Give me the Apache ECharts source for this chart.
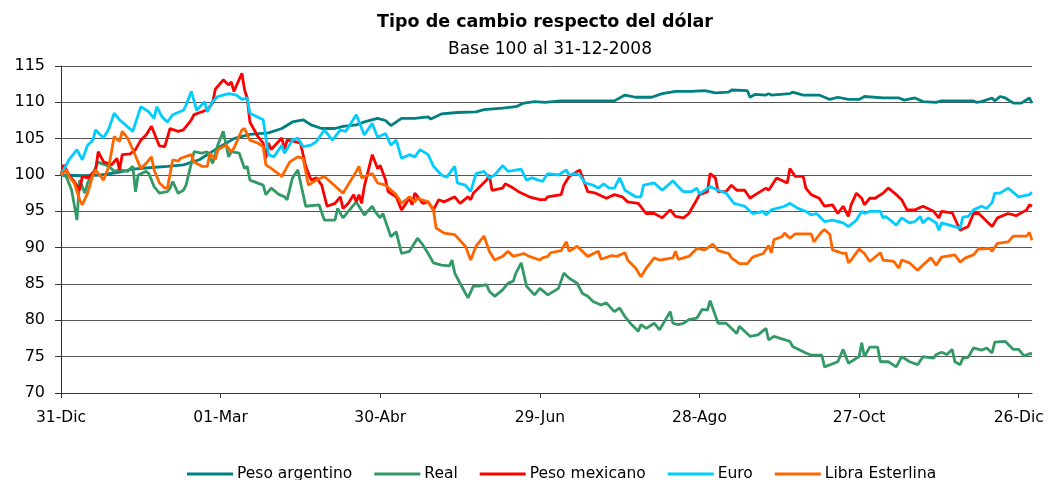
<!DOCTYPE html>
<html>
<head>
<meta charset="utf-8">
<script src="https://cdn.jsdelivr.net/npm/echarts@6/dist/echarts.min.js"></script>
<style>
  html, body { margin: 0; padding: 0; background: #fff; }
  #chart { width: 1048px; height: 480px; }
</style>
</head>
<body>
<div id="chart"></div>
<script>
/* ============================================================
   Tipo de cambio respecto del dólar — base 100 al 31-12-2008
   ============================================================ */

// x = días desde el 31-12-2008
const TICK_DAYS = [0, 60, 120, 180, 240, 300, 360];
const TICK_LABELS = ["31-Dic", "01-Mar", "30-Abr", "29-Jun", "28-Ago", "27-Oct", "26-Dic"];

const pesoArgentino = [
  [0,100],[8,99.9],[15,100.0],[22,100.4],[27,100.8],[33,101.0],[40,101.2],[46,101.4],[52,102.1],[58,103.5],
  [65,105.0],[71,105.6],[78,105.8],[83,106.4],[87,107.3],[91,107.6],[94,106.9],[98,106.4],[103,106.4],[106,106.7],
  [111,106.9],[114,107.3],[119,107.8],[122,107.5],[124,106.8],[128,107.8],[133,107.8],[138,108.0],[139,107.7],[143,108.4],
  [149,108.6],[156,108.7],[159,109.0],[166,109.2],[171,109.4],[174,109.9],[178,110.1],[182,110.0],[188,110.2],[197,110.2],
  [208,110.2],[212,111.0],[216,110.7],[222,110.7],[226,111.2],[231,111.5],[237,111.5],[242,111.6],[246,111.3],[251,111.4],
  [252,111.7],[258,111.6],[259,110.7],[261,111.1],[265,111.0],[266,111.2],[267,111.0],[274,111.2],[275,111.4],[279,111.0],
  [285,111.0],[289,110.4],[292,110.7],[296,110.4],[300,110.4],[302,110.8],[309,110.6],[315,110.6],[317,110.3],[321,110.6],
  [324,110.1],[329,110.0],[331,110.2],[343,110.2],[344,110.0],[346,110.1],[350,110.6],[351,110.2],[353,110.8],[355,110.6],
  [358,109.9],[361,109.9],[364,110.6],[365,109.9]
];

const real = [
  [0,100],[2,99.8],[4,97.9],[6,93.8],[7,99.3],[9,97.5],[10,98.9],[12,100.2],[14,101.8],[15,101.6],
  [18,101.2],[20,100.5],[22,100.7],[25,100.5],[27,101.2],[28,97.7],[29,100.0],[32,100.5],[33,100.2],[35,98.4],
  [37,97.5],[40,97.7],[41,98.2],[42,99.1],[44,97.5],[46,97.9],[47,98.6],[49,101.6],[50,103.2],[53,103.0],
  [55,103.2],[57,101.6],[59,104.2],[61,106.0],[63,102.5],[64,103.2],[67,103.0],[69,100.9],[70,101.2],[71,99.3],
  [76,98.6],[77,97.3],[79,98.2],[82,97.3],[84,97.0],[85,96.6],[87,99.6],[89,100.7],[92,95.7],[97,95.9],
  [99,93.8],[103,93.8],[104,95.4],[106,94.1],[111,96.3],[114,94.5],[117,95.7],[118,95.0],[120,94.1],[121,94.7],
  [124,91.5],[126,92.2],[128,89.2],[131,89.5],[134,91.3],[136,90.4],[138,89.2],[140,87.9],[143,87.6],[146,87.5],
  [147,88.3],[148,86.5],[150,85.1],[153,83.1],[155,84.7],[157,84.7],[160,84.9],[161,84.0],[163,83.3],[166,84.2],
  [168,85.1],[170,85.4],[171,86.5],[173,87.9],[175,84.7],[178,83.5],[180,84.4],[183,83.5],[187,84.4],[189,86.5],
  [191,85.8],[194,85.1],[196,83.7],[198,83.3],[200,82.6],[203,82.1],[205,82.4],[208,81.2],[210,81.7],[212,80.5],
  [214,79.6],[217,78.5],[218,79.4],[220,78.9],[223,79.6],[225,78.7],[229,81.2],[230,79.6],[232,79.4],[234,79.6],
  [236,80.1],[239,80.3],[241,81.5],[243,81.4],[244,82.7],[247,79.6],[250,79.6],[252,78.9],[254,78.2],[255,79.2],
  [259,77.8],[262,78.0],[265,78.9],[266,77.3],[268,77.8],[274,77.1],[275,76.4],[280,75.5],[282,75.2],[286,75.2],
  [287,73.6],[292,74.3],[294,76.0],[296,74.1],[300,75.0],[301,76.9],[302,75.0],[304,76.3],[307,76.3],[308,74.3],
  [311,74.3],[314,73.6],[316,75.0],[319,74.3],[322,73.9],[324,75.0],[328,74.8],[329,75.3],[331,75.6],[333,75.3],
  [335,76.0],[336,74.3],[338,73.9],[339,74.8],[341,74.9],[343,76.2],[346,75.9],[348,76.2],[350,75.5],[351,77.0],
  [355,77.1],[358,76.0],[360,76.0],[362,75.1],[364,75.4],[365,75.4]
];

const pesoMexicano = [
  [0,100],[1,101.4],[3,100.0],[5,99.1],[7,97.9],[8,99.8],[10,99.6],[13,100.7],[14,103.2],[16,101.8],
  [19,101.4],[21,102.3],[22,100.7],[23,102.8],[26,102.9],[28,103.5],[30,104.8],[32,105.5],[34,106.7],[37,104.0],
  [39,103.9],[41,106.4],[44,106.0],[46,106.2],[48,107.1],[49,107.6],[50,108.3],[53,108.7],[55,109.0],[57,109.9],
  [58,111.8],[61,113.1],[63,112.4],[64,112.8],[65,111.5],[68,114.0],[69,111.7],[70,110.6],[71,107.3],[74,105.3],
  [76,104.4],[77,102.3],[78,104.4],[79,103.5],[83,105.1],[84,103.5],[85,104.8],[88,104.6],[90,104.4],[92,101.2],
  [94,99.3],[96,99.6],[98,98.6],[100,95.7],[103,96.1],[105,97.0],[106,95.4],[108,96.1],[110,97.3],[111,96.3],
  [112,97.3],[113,96.1],[114,98.4],[117,102.8],[119,100.9],[120,101.3],[122,99.3],[123,97.7],[126,97.0],[128,95.2],
  [131,96.8],[132,95.9],[133,97.5],[136,96.1],[138,96.3],[140,95.2],[142,96.6],[144,96.3],[148,97.0],[150,96.1],
  [153,97.0],[154,96.6],[155,97.5],[160,99.3],[161,100.0],[162,97.9],[166,98.2],[167,98.8],[170,98.2],[172,97.7],
  [176,97.0],[180,96.6],[182,96.6],[183,97.0],[188,97.3],[189,98.6],[191,99.8],[195,100.7],[198,97.7],[201,97.5],
  [205,96.8],[208,97.3],[211,97.0],[213,96.3],[217,96.1],[220,94.7],[223,94.7],[226,94.1],[229,95.2],[231,94.3],
  [234,94.1],[236,94.7],[239,96.6],[240,97.3],[243,97.7],[244,100.2],[246,99.6],[247,97.7],[250,97.7],[252,98.6],
  [254,97.9],[257,97.9],[259,96.8],[261,97.3],[265,98.2],[266,97.9],[269,99.6],[273,98.9],[274,100.9],[276,99.8],
  [279,99.8],[280,98.2],[282,97.3],[285,96.8],[287,95.7],[290,95.9],[292,94.7],[294,95.7],[296,94.3],[297,95.9],
  [299,97.5],[301,96.8],[302,95.9],[304,96.8],[306,96.8],[309,97.5],[311,98.2],[314,97.3],[316,96.6],[318,95.2],
  [321,95.2],[324,95.7],[328,95.0],[330,94.1],[331,95.0],[335,94.8],[338,92.4],[341,92.9],[343,94.7],[345,94.7],
  [350,92.9],[352,94.1],[356,94.7],[359,94.4],[363,95.2],[364,95.9],[365,95.7]
];

const euro = [
  [0,100],[3,102.1],[6,103.5],[8,102.1],[10,104.1],[12,104.8],[13,106.2],[16,105.1],[18,106.4],[20,108.5],
  [22,107.6],[27,106.0],[30,109.4],[33,108.7],[35,107.8],[36,109.4],[38,108.0],[40,107.3],[42,108.3],[46,108.9],
  [47,109.6],[49,111.5],[51,108.9],[54,110.1],[55,108.7],[57,110.1],[59,110.8],[61,111.0],[63,111.2],[66,111.0],
  [68,110.4],[70,110.6],[71,108.5],[76,107.6],[78,102.8],[80,102.5],[83,104.1],[84,103.0],[87,104.8],[89,105.1],
  [91,103.9],[94,104.1],[96,104.6],[99,106.2],[102,104.8],[105,106.2],[107,106.0],[111,108.3],[114,105.5],[117,107.1],
  [119,105.2],[122,105.7],[124,104.1],[126,104.8],[128,102.3],[131,102.8],[133,102.5],[135,103.5],[138,102.8],[140,101.2],
  [143,100.0],[145,99.7],[148,101.2],[149,98.9],[152,98.6],[154,97.7],[156,100.2],[159,100.5],[161,99.6],[163,100.0],
  [166,101.3],[168,100.5],[173,100.8],[175,99.3],[177,99.6],[181,99.1],[183,100.2],[187,100.0],[190,100.7],[191,100.0],
  [193,100.2],[195,100.0],[197,98.9],[200,98.6],[202,98.2],[204,98.8],[206,98.2],[208,98.2],[210,99.6],[212,97.9],
  [216,97.0],[218,97.0],[219,98.6],[223,98.9],[226,97.9],[230,99.2],[232,98.4],[234,97.7],[237,97.7],[239,98.2],
  [240,97.4],[244,98.4],[247,97.9],[250,97.5],[253,96.1],[257,95.7],[260,94.7],[264,95.0],[265,94.5],[267,95.2],
  [272,95.7],[274,96.1],[277,95.4],[280,95.0],[282,94.5],[284,94.7],[287,93.6],[290,93.8],[294,93.4],[296,92.9],
  [299,93.8],[301,95.0],[302,94.7],[304,95.0],[308,95.0],[309,94.1],[310,94.3],[314,93.1],[316,94.1],[319,93.4],
  [321,93.6],[323,94.3],[324,93.4],[326,94.1],[329,93.4],[330,92.4],[331,93.4],[336,92.9],[338,92.7],[339,94.2],
  [341,94.3],[343,95.2],[346,95.7],[348,95.4],[350,96.2],[351,97.5],[353,97.5],[356,98.2],[360,97.0],[364,97.3],
  [365,97.6]
];

const libraEsterlina = [
  [0,100],[2,100.7],[3,99.8],[5,98.9],[7,96.6],[8,95.9],[10,97.5],[12,100.0],[13,100.7],[16,99.3],
  [18,101.2],[20,105.3],[22,104.6],[23,106.0],[25,105.1],[27,103.5],[30,100.9],[32,101.6],[34,102.5],[35,100.7],
  [37,98.9],[39,98.2],[40,98.2],[42,102.1],[44,101.9],[45,102.3],[49,102.8],[50,101.8],[53,101.2],[55,101.2],
  [56,103.0],[58,102.1],[59,103.5],[62,104.1],[64,103.2],[65,103.7],[68,106.2],[69,106.4],[71,104.8],[74,104.4],
  [76,103.9],[77,101.4],[79,100.9],[83,99.8],[86,101.8],[89,102.5],[91,102.3],[93,98.6],[96,99.3],[99,99.8],
  [106,97.5],[111,100.5],[112,101.2],[113,99.6],[117,100.2],[119,98.9],[122,98.6],[126,97.3],[128,96.1],[131,97.0],
  [133,96.3],[134,96.8],[138,96.3],[140,95.2],[141,92.7],[144,92.0],[148,91.8],[152,90.2],[154,88.3],[156,90.2],
  [159,91.6],[161,89.5],[163,88.3],[166,88.8],[168,89.5],[170,88.8],[174,89.2],[176,88.8],[180,88.3],[181,88.6],
  [183,88.8],[184,89.3],[188,89.6],[190,90.8],[191,89.5],[194,90.2],[198,88.8],[202,89.5],[203,88.4],[207,88.9],
  [209,88.8],[212,89.3],[213,88.3],[216,87.2],[218,86.0],[220,87.2],[223,88.6],[225,88.3],[230,88.6],[231,89.5],
  [232,88.4],[236,88.8],[239,89.9],[242,89.7],[245,90.5],[247,89.6],[251,89.2],[252,88.6],[255,87.8],[258,87.8],
  [260,88.7],[264,89.2],[266,90.3],[267,89.3],[268,91.1],[271,91.5],[272,92.0],[274,91.3],[276,91.9],[282,91.9],
  [283,90.8],[286,92.2],[287,92.5],[289,91.8],[290,89.7],[294,89.2],[295,89.3],[296,87.9],[297,88.3],[300,89.8],
  [302,89.2],[304,88.1],[308,89.3],[309,88.3],[313,88.1],[315,87.2],[316,88.3],[319,87.9],[322,86.9],[324,87.6],
  [327,88.6],[329,87.6],[331,88.7],[336,89.0],[338,88.0],[340,88.6],[343,89.0],[345,89.9],[346,89.8],[349,89.9],
  [350,89.5],[352,90.6],[356,90.8],[358,91.6],[363,91.6],[364,92.1],[365,91.0]
];

const SERIES = [
  { name: "Peso argentino", data: pesoArgentino, color: "#008080" },
  { name: "Real", data: real, color: "#339966" },
  { name: "Peso mexicano", data: pesoMexicano, color: "#ff0000" },
  { name: "Euro", data: euro, color: "#00ccff" },
  { name: "Libra Esterlina", data: libraEsterlina, color: "#ff6600" },
];

/* ----------------------- CHART ----------------------- */
const FONT = "DejaVu Sans";
const chart = echarts.init(document.getElementById("chart"), null, { renderer: "canvas" });

chart.setOption({
  animation: false,
  textStyle: { fontFamily: FONT, color: "#000" },
  title: [
    {
      text: "Tipo de cambio respecto del dólar",
      left: 540, top: 8, textAlign: "center",
      textStyle: { fontFamily: FONT, fontSize: 17.5, fontWeight: "bold", color: "#000" },
    },
    {
      text: "Base 100 al 31-12-2008",
      left: 545, top: 36, textAlign: "center",
      textStyle: { fontFamily: FONT, fontSize: 17, fontWeight: "normal", color: "#000" },
    },
  ],
  legend: {
    left: 182, top: 461,
    icon: "rect", itemWidth: 46, itemHeight: 3, itemGap: 22,
    textStyle: { fontFamily: FONT, fontSize: 15.5, color: "#000", padding: [0, 0, 0, -1] },
    data: SERIES.map((s) => s.name),
  },
  grid: { left: 61, right: 16, top: 66, bottom: 87, containLabel: false },
  xAxis: {
    type: "value",
    min: 0, max: 365,
    axisLine: { lineStyle: { color: "#333", width: 1 } },
    axisTick: { length: 5, lineStyle: { color: "#333" }, customValues: TICK_DAYS },
    axisLabel: {
      customValues: TICK_DAYS, margin: 17,
      fontFamily: FONT, fontSize: 15.5, color: "#000",
      formatter: (v) => TICK_LABELS[TICK_DAYS.indexOf(v)] || "",
    },
    splitLine: { show: false },
  },
  yAxis: {
    type: "value",
    min: 70, max: 115, interval: 5,
    axisLine: { show: true, lineStyle: { color: "#333", width: 1 } },
    axisTick: { show: true, length: 6, lineStyle: { color: "#333" } },
    axisLabel: { margin: 16, fontFamily: FONT, fontSize: 16, color: "#000" },
    splitLine: { lineStyle: { color: "#555", width: 1 } },
  },
  series: SERIES.map((s) => ({
    name: s.name,
    type: "line",
    data: s.data,
    showSymbol: false,
    symbol: "none",
    color: s.color,
    lineStyle: { width: 2.8, color: s.color },
  })),
});
</script>
</body>
</html>
